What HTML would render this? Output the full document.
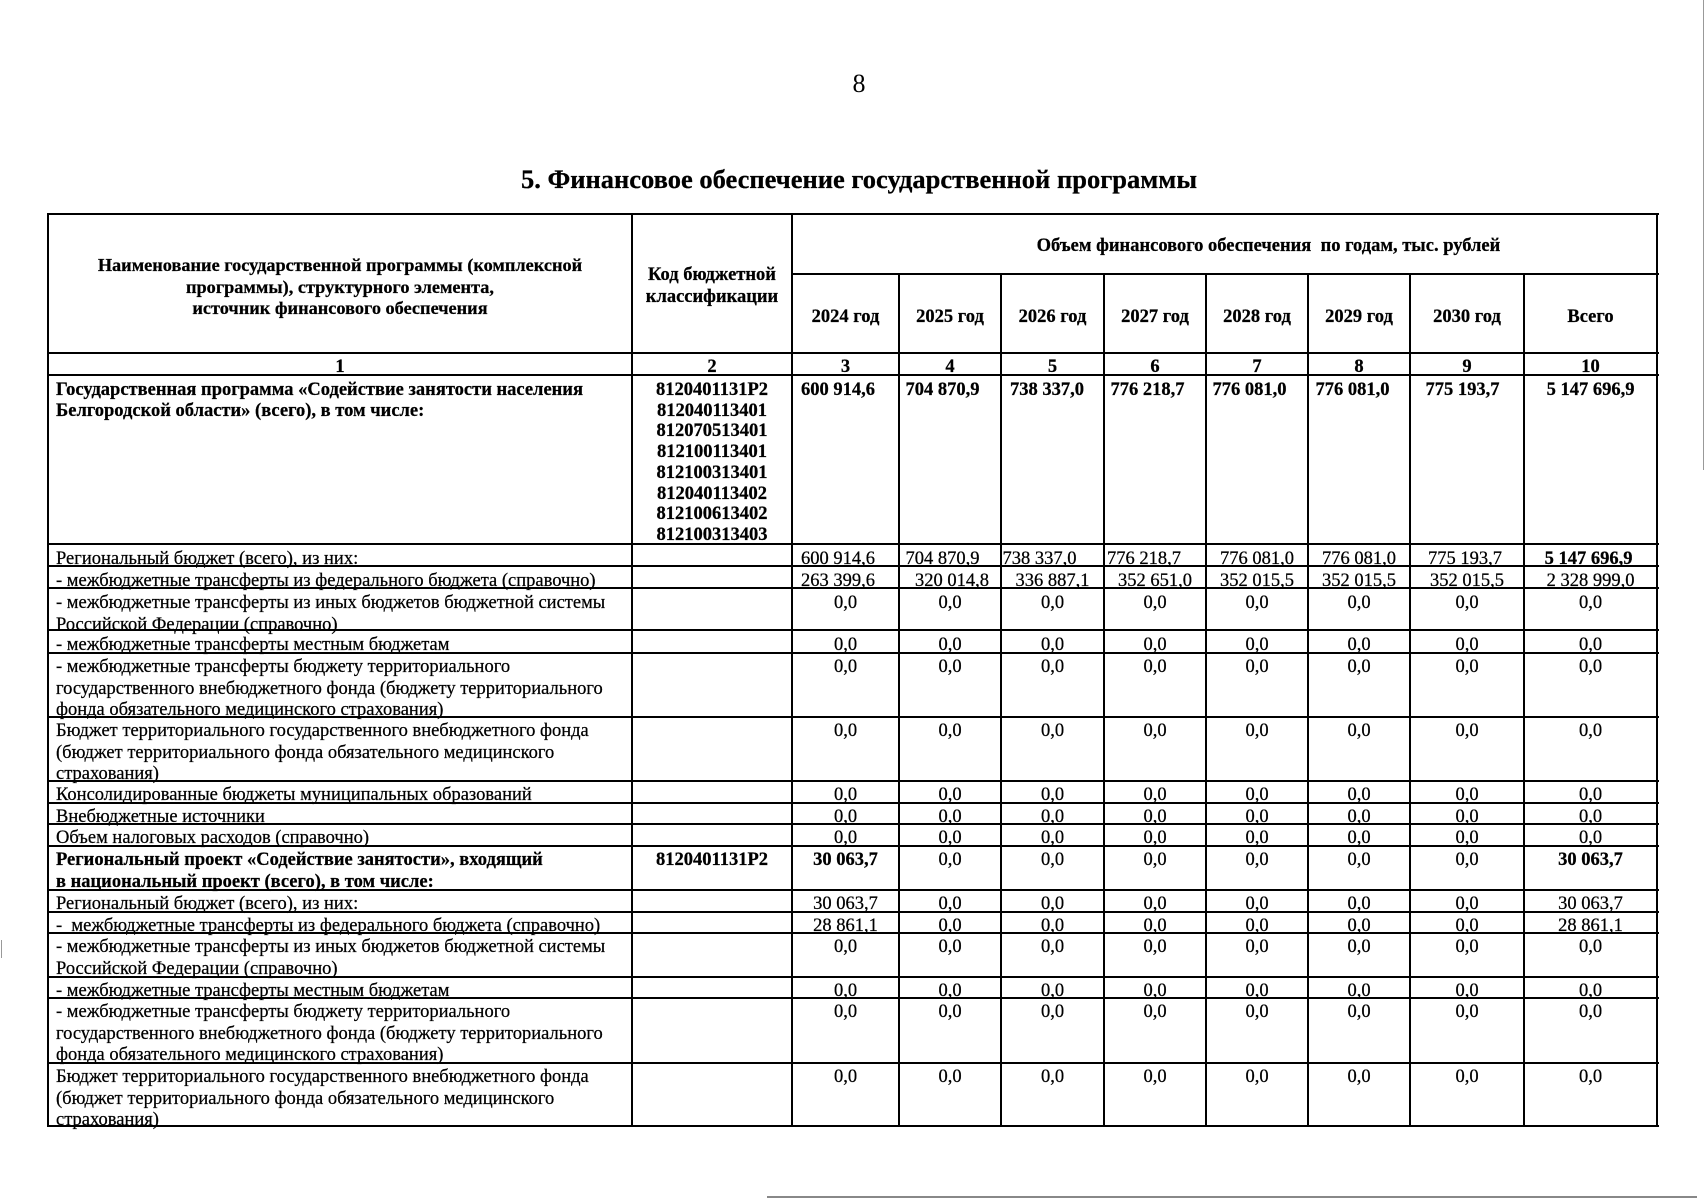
<!DOCTYPE html>
<html lang="ru">
<head>
<meta charset="utf-8">
<style>
  html,body{margin:0;padding:0;background:#fff;}
  body{width:1706px;height:1200px;position:relative;overflow:hidden;font-family:"Liberation Serif","Noto Serif CJK SC",serif;color:#000;}
  .h{position:absolute;left:47px;width:1612px;height:2px;background:#000;}
  .vl{position:absolute;width:2px;background:#000;}
  .t{position:absolute;font-size:18.5px;line-height:21.5px;white-space:nowrap;-webkit-text-stroke:0.25px #000;}
  .b{font-weight:bold;}
  .ctr{text-align:center;}
  .v{position:absolute;left:792px;display:flex;font-size:18.5px;line-height:21.5px;white-space:nowrap;-webkit-text-stroke:0.25px #000;}
  .v span{display:block;text-align:center;box-sizing:border-box;}
  .v span:nth-child(1){width:107px;}
  .v span:nth-child(2){width:102px;}
  .v span:nth-child(3){width:103px;}
  .v span:nth-child(4){width:102px;}
  .v span:nth-child(5){width:102px;}
  .v span:nth-child(6){width:102px;}
  .v span:nth-child(7){width:114px;}
  .v span:nth-child(8){width:133px;}
</style>
</head>
<body>

<!-- page number -->
<div class="t" style="left:0;width:1706px;top:69px;font-size:26px;line-height:30px;text-align:center;padding-left:12px;box-sizing:border-box;-webkit-text-stroke:0;">8</div>

<!-- title -->
<div class="t b" style="left:0;width:1706px;top:164px;font-size:26.5px;line-height:30px;text-align:center;padding-left:12px;box-sizing:border-box;">5. Финансовое обеспечение государственной программы</div>

<!-- horizontal lines -->
<div class="h" style="top:213px"></div>
<div class="h" style="top:273px;left:791px;width:868px"></div>
<div class="h" style="top:352px"></div>
<div class="h" style="top:374px"></div>
<div class="h" style="top:543px"></div>
<div class="h" style="top:565px"></div>
<div class="h" style="top:587px"></div>
<div class="h" style="top:629px"></div>
<div class="h" style="top:652px"></div>
<div class="h" style="top:716px"></div>
<div class="h" style="top:780px"></div>
<div class="h" style="top:802px"></div>
<div class="h" style="top:823px"></div>
<div class="h" style="top:845px"></div>
<div class="h" style="top:889px"></div>
<div class="h" style="top:911px"></div>
<div class="h" style="top:932px"></div>
<div class="h" style="top:976px"></div>
<div class="h" style="top:997px"></div>
<div class="h" style="top:1062px"></div>
<div class="h" style="top:1125px"></div>

<!-- vertical lines -->
<div class="vl" style="left:47px;top:213px;height:914px"></div>
<div class="vl" style="left:631px;top:213px;height:914px"></div>
<div class="vl" style="left:791px;top:213px;height:914px"></div>
<div class="vl" style="left:898px;top:273px;height:854px"></div>
<div class="vl" style="left:1000px;top:273px;height:854px"></div>
<div class="vl" style="left:1103px;top:273px;height:854px"></div>
<div class="vl" style="left:1205px;top:273px;height:854px"></div>
<div class="vl" style="left:1307px;top:273px;height:854px"></div>
<div class="vl" style="left:1409px;top:273px;height:854px"></div>
<div class="vl" style="left:1523px;top:273px;height:854px"></div>
<div class="vl" style="left:1656px;top:213px;height:914px"></div>

<!-- header -->
<div class="t b ctr" style="left:48px;width:584px;top:255px;font-size:18.3px;">Наименование государственной программы (комплексной<br>программы), структурного элемента,<br>источник финансового обеспечения</div>
<div class="t b ctr" style="left:632px;width:160px;top:265px;">Код бюджетной<br>классификации</div>
<div class="t b ctr" style="left:792px;width:865px;top:236px;padding-left:88px;box-sizing:border-box;">Объем финансового обеспечения&nbsp; по годам, тыс. рублей</div>
<div class="v b" style="top:307px;"><span>2024 год</span><span>2025 год</span><span>2026 год</span><span>2027 год</span><span>2028 год</span><span>2029 год</span><span>2030 год</span><span>Всего</span></div>

<!-- column numbers -->
<div class="t b ctr" style="left:48px;width:584px;top:357px;">1</div>
<div class="t b ctr" style="left:632px;width:160px;top:357px;">2</div>
<div class="v b" style="top:357px;"><span>3</span><span>4</span><span>5</span><span>6</span><span>7</span><span>8</span><span>9</span><span>10</span></div>

<!-- Row A -->
<div class="t b" style="left:56px;top:380px;line-height:20.7px;">Государственная программа «Содействие занятости населения<br>Белгородской области» (всего), в том числе:</div>
<div class="t b ctr" style="left:632px;width:160px;top:380px;line-height:20.7px;">8120401131P2<br>812040113401<br>812070513401<br>812100113401<br>812100313401<br>812040113402<br>812100613402<br>812100313403</div>
<div class="v b" style="top:380px;"><span style="padding-right:15px">600 914,6</span><span style="padding-right:15px">704 870,9</span><span style="padding-right:11px">738 337,0</span><span style="padding-right:15px">776 218,7</span><span style="padding-right:15px">776 081,0</span><span style="padding-right:13px">776 081,0</span><span style="padding-right:9px">775 193,7</span><span>5 147 696,9</span></div>

<!-- Row B -->
<div class="t" style="left:56px;top:549px;">Региональный бюджет (всего), из них:</div>
<div class="v" style="top:549px;"><span style="padding-right:15px">600 914,6</span><span style="padding-right:15px">704 870,9</span><span style="padding-right:26px">738 337,0</span><span style="padding-right:22px">776 218,7</span><span>776 081,0</span><span>776 081,0</span><span style="padding-right:4px">775 193,7</span><span class="b" style="padding-right:4px">5 147 696,9</span></div>

<!-- Row C -->
<div class="t" style="left:56px;top:571px;">- межбюджетные трансферты из федерального бюджета (справочно)</div>
<div class="v" style="top:571px;"><span style="padding-right:15px">263 399,6</span><span style="padding-left:4px">320 014,8</span><span>336 887,1</span><span>352 651,0</span><span>352 015,5</span><span>352 015,5</span><span>352 015,5</span><span>2 328 999,0</span></div>

<!-- Row D -->
<div class="t" style="left:56px;top:593px;">- межбюджетные трансферты из иных бюджетов бюджетной системы<br>Российской Федерации (справочно)</div>
<div class="v" style="top:593px;"><span>0,0</span><span>0,0</span><span>0,0</span><span>0,0</span><span>0,0</span><span>0,0</span><span>0,0</span><span>0,0</span></div>

<!-- Row E -->
<div class="t" style="left:56px;top:635px;">- межбюджетные трансферты местным бюджетам</div>
<div class="v" style="top:635px;"><span>0,0</span><span>0,0</span><span>0,0</span><span>0,0</span><span>0,0</span><span>0,0</span><span>0,0</span><span>0,0</span></div>

<!-- Row F -->
<div class="t" style="left:56px;top:657px;">- межбюджетные трансферты бюджету территориального<br>государственного внебюджетного фонда (бюджету территориального<br>фонда обязательного медицинского страхования)</div>
<div class="v" style="top:657px;"><span>0,0</span><span>0,0</span><span>0,0</span><span>0,0</span><span>0,0</span><span>0,0</span><span>0,0</span><span>0,0</span></div>

<!-- Row G -->
<div class="t" style="left:56px;top:721px;">Бюджет территориального государственного внебюджетного фонда<br>(бюджет территориального фонда обязательного медицинского<br>страхования)</div>
<div class="v" style="top:721px;"><span>0,0</span><span>0,0</span><span>0,0</span><span>0,0</span><span>0,0</span><span>0,0</span><span>0,0</span><span>0,0</span></div>

<!-- Row H -->
<div class="t" style="left:56px;top:785px;">Консолидированные бюджеты муниципальных образований</div>
<div class="v" style="top:785px;"><span>0,0</span><span>0,0</span><span>0,0</span><span>0,0</span><span>0,0</span><span>0,0</span><span>0,0</span><span>0,0</span></div>

<!-- Row I -->
<div class="t" style="left:56px;top:807px;">Внебюджетные источники</div>
<div class="v" style="top:807px;"><span>0,0</span><span>0,0</span><span>0,0</span><span>0,0</span><span>0,0</span><span>0,0</span><span>0,0</span><span>0,0</span></div>

<!-- Row J -->
<div class="t" style="left:56px;top:828px;">Объем налоговых расходов (справочно)</div>
<div class="v" style="top:828px;"><span>0,0</span><span>0,0</span><span>0,0</span><span>0,0</span><span>0,0</span><span>0,0</span><span>0,0</span><span>0,0</span></div>

<!-- Row K -->
<div class="t b" style="left:56px;top:850px;">Региональный проект «Содействие занятости», входящий<br>в национальный проект (всего), в том числе:</div>
<div class="t b ctr" style="left:632px;width:160px;top:850px;">8120401131P2</div>
<div class="v" style="top:850px;"><span class="b">30 063,7</span><span>0,0</span><span>0,0</span><span>0,0</span><span>0,0</span><span>0,0</span><span>0,0</span><span class="b">30 063,7</span></div>

<!-- Row L -->
<div class="t" style="left:56px;top:894px;">Региональный бюджет (всего), из них:</div>
<div class="v" style="top:894px;"><span>30 063,7</span><span>0,0</span><span>0,0</span><span>0,0</span><span>0,0</span><span>0,0</span><span>0,0</span><span>30 063,7</span></div>

<!-- Row M -->
<div class="t" style="left:56px;top:916px;">-&nbsp; межбюджетные трансферты из федерального бюджета (справочно)</div>
<div class="v" style="top:916px;"><span>28 861,1</span><span>0,0</span><span>0,0</span><span>0,0</span><span>0,0</span><span>0,0</span><span>0,0</span><span>28 861,1</span></div>

<!-- Row N -->
<div class="t" style="left:56px;top:937px;">- межбюджетные трансферты из иных бюджетов бюджетной системы<br>Российской Федерации (справочно)</div>
<div class="v" style="top:937px;"><span>0,0</span><span>0,0</span><span>0,0</span><span>0,0</span><span>0,0</span><span>0,0</span><span>0,0</span><span>0,0</span></div>

<!-- Row O -->
<div class="t" style="left:56px;top:981px;">- межбюджетные трансферты местным бюджетам</div>
<div class="v" style="top:981px;"><span>0,0</span><span>0,0</span><span>0,0</span><span>0,0</span><span>0,0</span><span>0,0</span><span>0,0</span><span>0,0</span></div>

<!-- Row P -->
<div class="t" style="left:56px;top:1002px;">- межбюджетные трансферты бюджету территориального<br>государственного внебюджетного фонда (бюджету территориального<br>фонда обязательного медицинского страхования)</div>
<div class="v" style="top:1002px;"><span>0,0</span><span>0,0</span><span>0,0</span><span>0,0</span><span>0,0</span><span>0,0</span><span>0,0</span><span>0,0</span></div>

<!-- Row Q -->
<div class="t" style="left:56px;top:1067px;">Бюджет территориального государственного внебюджетного фонда<br>(бюджет территориального фонда обязательного медицинского<br>страхования)</div>
<div class="v" style="top:1067px;"><span>0,0</span><span>0,0</span><span>0,0</span><span>0,0</span><span>0,0</span><span>0,0</span><span>0,0</span><span>0,0</span></div>

<!-- scan artifacts -->
<div style="position:absolute;left:767px;top:1196px;width:930px;height:2px;background:#888;"></div>
<div style="position:absolute;left:1703px;top:0;width:1px;height:470px;background:#999;"></div>
<div style="position:absolute;left:1px;top:940px;width:1px;height:18px;background:#999;"></div>

</body>
</html>
